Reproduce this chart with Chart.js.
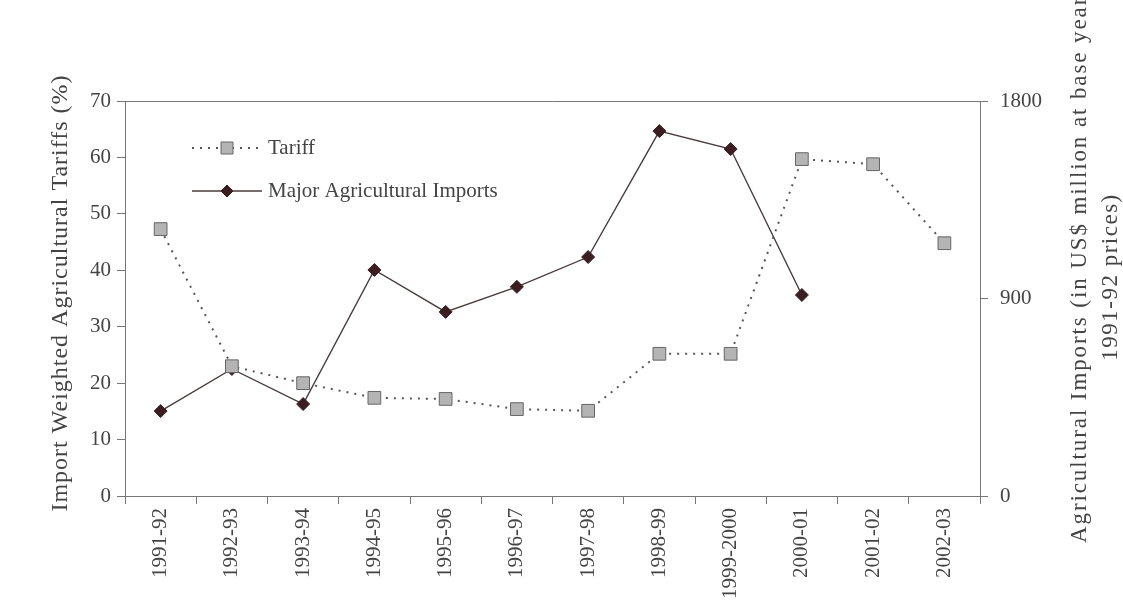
<!doctype html>
<html>
<head>
  <title>Tariffs and agricultural imports</title>
  <script src="https://cdn.jsdelivr.net/npm/chart.js@4.4.1/dist/chart.umd.min.js"></script>
  <style>
    html, body { margin: 0; padding: 0; background: #fff; }
    .chart { width: 1123px; height: 611px; }
  </style>
</head>
<body>
  <div class="chart">
    <canvas id="myChart"></canvas>
  </div>
  <script>
    var years = ['1991-92', '1992-93', '1993-94', '1994-95', '1995-96', '1996-97',
      '1997-98', '1998-99', '1999-2000', '2000-01', '2001-02', '2002-03'];
    // import weighted agricultural tariffs (%)
    var tariff = [47.3, 23.0, 20.0, 17.4, 17.2, 15.4, 15.1, 25.2, 25.2, 59.7, 58.8, 44.8];
    // major agricultural imports (US$ million, 1991-92 prices)
    var imports = [387, 579, 419, 1030, 839, 953, 1089, 1663, 1581, 916, null, null];
    var leftTitle = 'Import Weighted Agricultural Tariffs (%)';
    var rightTitle = ['Agricultural Imports (in US$ million at base year', '1991-92 prices)'];

    var serif = "'Liberation Serif', 'DejaVu Serif', serif";

    // legend inside the plot (top left), top frame line and both axis titles
    var extras = {
      id: 'extras',
      afterDraw: function(chart) {
        var ctx = chart.ctx;
        var area = chart.chartArea;
        var x0 = area.left + 67, x1 = area.left + 137;
        var rows = [area.top + 47, area.top + 90];
        ctx.save();
        ctx.font = '21px ' + serif;
        ctx.textBaseline = 'middle';
        chart.data.datasets.forEach(function(ds, i) {
          var y = rows[i];
          ctx.strokeStyle = ds.borderColor;
          ctx.lineWidth = ds.borderWidth;
          ctx.setLineDash(ds.borderDash || []);
          ctx.beginPath();
          ctx.moveTo(x0, y);
          ctx.lineTo(x1, y);
          ctx.stroke();
          ctx.setLineDash([]);
          var cx = (x0 + x1) / 2;
          ctx.fillStyle = ds.pointBackgroundColor;
          ctx.strokeStyle = ds.pointBorderColor;
          ctx.lineWidth = 1;
          ctx.beginPath();
          if (ds.pointStyle === 'rect') {
            ctx.rect(cx - 6, y - 6, 12, 12);
          } else {
            ctx.moveTo(cx, y - 6);
            ctx.lineTo(cx + 6, y);
            ctx.lineTo(cx, y + 6);
            ctx.lineTo(cx - 6, y);
            ctx.closePath();
          }
          ctx.fill();
          ctx.stroke();
          ctx.fillStyle = '#444';
          ctx.fillText(ds.label, x1 + 6, y);
        });

        ctx.strokeStyle = '#777';
        ctx.lineWidth = 1;
        ctx.beginPath();
        ctx.moveTo(area.left, area.top + 0.5);
        ctx.lineTo(area.right, area.top + 0.5);
        ctx.stroke();
        ctx.restore();

        // axis titles, both reading bottom to top
        ctx.save();
        ctx.fillStyle = '#444';
        ctx.letterSpacing = '1px';
        ctx.font = '24px ' + serif;
        ctx.textAlign = 'center';
        ctx.textBaseline = 'middle';
        ctx.translate(61, 293);
        ctx.rotate(-Math.PI / 2);
        ctx.fillText(leftTitle, 0, 0);
        ctx.restore();

        ctx.save();
        ctx.fillStyle = '#444';
        ctx.letterSpacing = '1.9px';
        ctx.font = '23px ' + serif;
        ctx.textBaseline = 'middle';
        ctx.translate(1080, 543);
        ctx.rotate(-Math.PI / 2);
        ctx.textAlign = 'left';
        ctx.fillText(rightTitle[0], 0, 0);
        ctx.letterSpacing = '1.5px';
        ctx.textAlign = 'center';
        ctx.fillText(rightTitle[1], 543 - 277, 31);
        ctx.restore();
      }
    };

    var config = {
      type: 'line',
      data: {
        labels: years,
        datasets: [{
          label: 'Tariff',
          data: tariff,
          yAxisID: 'y',
          borderColor: '#555',
          borderWidth: 2,
          borderDash: [2, 6],
          pointStyle: 'rect',
          pointRadius: 9,
          pointBackgroundColor: '#b4b4b4',
          pointBorderColor: '#666',
          pointBorderWidth: 1,
          tension: 0
        }, {
          label: 'Major Agricultural Imports',
          data: imports,
          yAxisID: 'y2',
          borderColor: '#4a3c3c',
          borderWidth: 1.4,
          pointStyle: 'rectRot',
          pointRadius: 6.5,
          pointBackgroundColor: '#3a1e22',
          pointBorderColor: '#3a1e22',
          pointBorderWidth: 1,
          tension: 0
        }]
      },
      options: {
        responsive: true,
        maintainAspectRatio: false,
        animation: false,
        layout: { padding: { top: 101, left: 84, right: 69, bottom: 8 } },
        plugins: {
          legend: { display: false },
          tooltip: { enabled: false }
        },
        scales: {
          x: {
            offset: true,
            grid: { display: true, drawOnChartArea: false, offset: true, tickLength: 8, color: '#777' },
            border: { color: '#777' },
            ticks: {
              color: '#444',
              font: { family: serif, size: 21 },
              minRotation: 90,
              maxRotation: 90,
              autoSkip: false,
              padding: 4
            }
          },
          y: {
            position: 'left',
            min: 0,
            max: 70,
            ticks: { stepSize: 10, color: '#444', font: { family: serif, size: 21 }, padding: 6 },
            grid: { display: true, drawOnChartArea: false, tickLength: 8, color: '#777' },
            border: { color: '#777' }
          },
          y2: {
            position: 'right',
            min: 0,
            max: 1800,
            ticks: {
              stepSize: 900,
              color: '#444',
              font: { family: serif, size: 21 },
              padding: 12,
              callback: function(v) { return String(v); }
            },
            grid: { display: true, drawOnChartArea: false, tickLength: 8, color: '#777' },
            border: { color: '#777' }
          }
        }
      },
      plugins: [extras]
    };

    window.onload = function() {
      var ctx = document.getElementById('myChart').getContext('2d');
      window.myChart = new Chart(ctx, config);
    };
  </script>
</body>
</html>
